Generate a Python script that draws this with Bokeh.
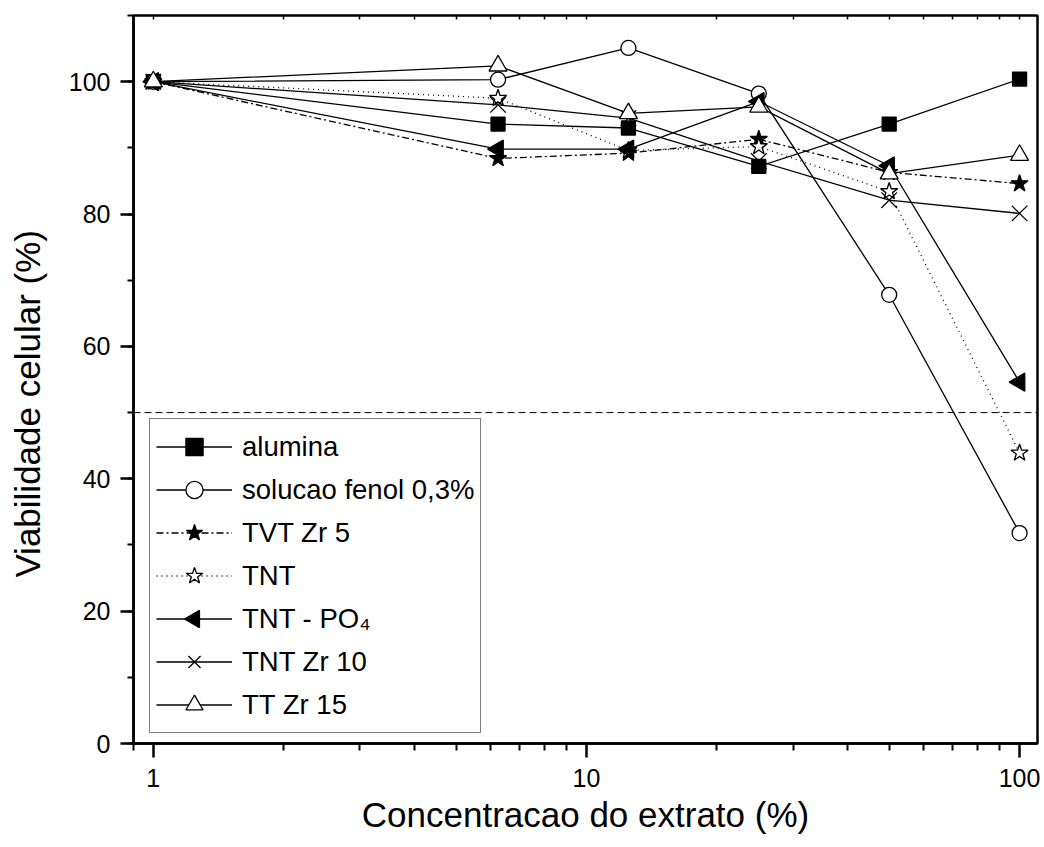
import numpy as np
from bokeh.plotting import figure
from bokeh.models import (Range1d, FixedTicker, SingleIntervalTicker, LogAxis,
                          Legend, LegendItem, Span, NumeralTickFormatter, CustomJS)
from bokeh.embed import file_html
from bokeh.resources import INLINE

# ---- data ----
conc = [1, 6.25, 12.5, 25, 50, 100]
alumina = [100, 93.6, 93.0, 87.2, 93.6, 100.4]
fenol = [100, 100.3, 105.1, 98.2, 67.8, 31.8]
tvt_zr5 = [100, 88.4, 89.2, 91.3, 86.3, 84.6]
tnt = [100, 97.5, 89.6, 90.2, 83.4, 43.9]
tnt_po4 = [100, 89.8, 89.8, 97.0, 87.3, 54.6]
tnt_zr10 = [100, 96.5, 94.5, 88.0, 82.1, 80.1]
tt_zr15 = [100, 102.4, 95.2, 96.2, 86.1, 88.9]
limit_value = 50

x_major = [1, 10, 100]
x_minor = [0.9, 2, 3, 4, 5, 6, 7, 8, 9, 20, 30, 40, 50, 60, 70, 80, 90]

FONT = "Liberation Sans"

p = figure(width=1044, height=847, x_axis_type="log",
           x_range=Range1d(0.9, 110), y_range=Range1d(0, 110),
           output_backend="svg", toolbar_location=None,
           min_border_left=133, min_border_right=7, min_border_top=15,
           min_border_bottom=104)
p.grid.visible = False
p.background_fill_color = "white"
p.border_fill_color = "white"
p.outline_line_color = "black"
p.outline_line_width = 2.5

# x axis
xa = p.xaxis[0]
xa.ticker = FixedTicker(ticks=x_major, minor_ticks=x_minor)
xa.formatter = NumeralTickFormatter(format="0")
xa.axis_label = "Concentracao do extrato (%)"
xa.axis_line_width = 2.5
xa.major_tick_line_width = 2.5
xa.minor_tick_line_width = 2
xa.major_tick_out = 14
xa.major_tick_in = 0
xa.minor_tick_out = 7
xa.minor_tick_in = 0
xa.major_label_standoff = 11
xa.axis_label_standoff = 5
xa.major_label_text_font = FONT
xa.major_label_text_font_size = "25px"
xa.major_label_text_color = "black"
xa.axis_label_text_font = FONT
xa.axis_label_text_font_size = "35px"
xa.axis_label_text_font_style = "normal"
xa.axis_label_text_color = "black"

# y axis
ya = p.yaxis[0]
ya.ticker = SingleIntervalTicker(interval=20, num_minor_ticks=2)
ya.axis_label = "Viabilidade celular (%)" + "\u00a0" * 5
ya.axis_line_width = 2.5
ya.major_tick_line_width = 2.5
ya.minor_tick_line_width = 2
ya.major_tick_out = 13
ya.major_tick_in = 0
ya.minor_tick_out = 6
ya.minor_tick_in = 0
ya.major_label_standoff = 10
ya.axis_label_standoff = 19
ya.major_label_text_font = FONT
ya.major_label_text_font_size = "25px"
ya.major_label_text_color = "black"
ya.axis_label_text_font = FONT
ya.axis_label_text_font_size = "35px"
ya.axis_label_text_font_style = "normal"
ya.axis_label_text_color = "black"

# top axis: inward ticks only, no labels
top = LogAxis(ticker=FixedTicker(ticks=[], minor_ticks=x_major + x_minor))
top.axis_line_color = None
top.minor_tick_in = 4
top.minor_tick_out = 0
top.minor_tick_line_width = 1.5
top.major_tick_line_color = None
p.add_layout(top, "above")

# 50% reference line
p.add_layout(Span(location=limit_value, dimension="width", line_color="black",
                  line_width=1, line_dash="7 4"))

LEFT_TRI_JS = """
let d = null;
for (const a of arguments) { if (a != null && typeof a === "object" && a.ctx != null) { d = a; break; } }
if (d != null) {
  const ctx = d.ctx, r = d.r, i = d.i, v = d.visuals;
  const h = r * Math.sqrt(3);
  const a = h / 3;
  ctx.moveTo(a, -r);
  ctx.lineTo(a, r);
  ctx.lineTo(a - h, 0);
  ctx.closePath();
  if (v != null) {
    if (v.fill != null) v.fill.apply(ctx, i);
    if (v.line != null) v.line.apply(ctx, i);
  }
}
"""

items = []

def series(label, y, marker, fill, dash="solid", size=14, angle=0.0, custom=None):
    r_line = p.line(conc, y, line_color="black", line_width=1.3, line_dash=dash)
    r_mark = None
    if custom is not None:
        try:
            r_mark = p.scatter(conc, y, marker="@lefttri",
                               defs={"@lefttri": CustomJS(code=custom)},
                               size=size, fill_color=fill, line_color="black",
                               line_width=1.3)
        except Exception:
            if r_mark is not None:
                p.renderers.remove(r_mark)
            r_mark = None
    if r_mark is None:
        r_mark = p.scatter(conc, y, marker=marker, size=size, angle=angle,
                           fill_color=fill, line_color="black", line_width=1.3)
    items.append(LegendItem(label=label, renderers=[r_line, r_mark]))

series("alumina", alumina, "square", "black", size=14)
series("solucao fenol 0,3%", fenol, "circle", "white", size=15)
series("TVT Zr 5", tvt_zr5, "star", "black", dash="7 3 2 3", size=18)
series("TNT", tnt, "star", "white", dash="1 4", size=18)
series("TNT - PO\u2084", tnt_po4, "triangle", "black", size=18, angle=np.pi / 2,
       custom=LEFT_TRI_JS)
series("TNT Zr 10", tnt_zr10, "x", "white", size=22)
series("TT Zr 15", tt_zr15, "triangle", "white", size=18)

legend = Legend(items=items, location=(16, 10))
legend.label_text_font = FONT
legend.label_text_font_size = "27.5px"
legend.label_text_color = "black"
legend.glyph_width = 76
legend.glyph_height = 43
legend.label_height = 43
legend.spacing = 0
legend.padding = 6
legend.margin = 0
legend.label_standoff = 10
legend.border_line_color = "black"
legend.border_line_width = 1
legend.background_fill_alpha = 1
p.add_layout(legend, "center")

open("out.html", "w").write(file_html(p, INLINE))
